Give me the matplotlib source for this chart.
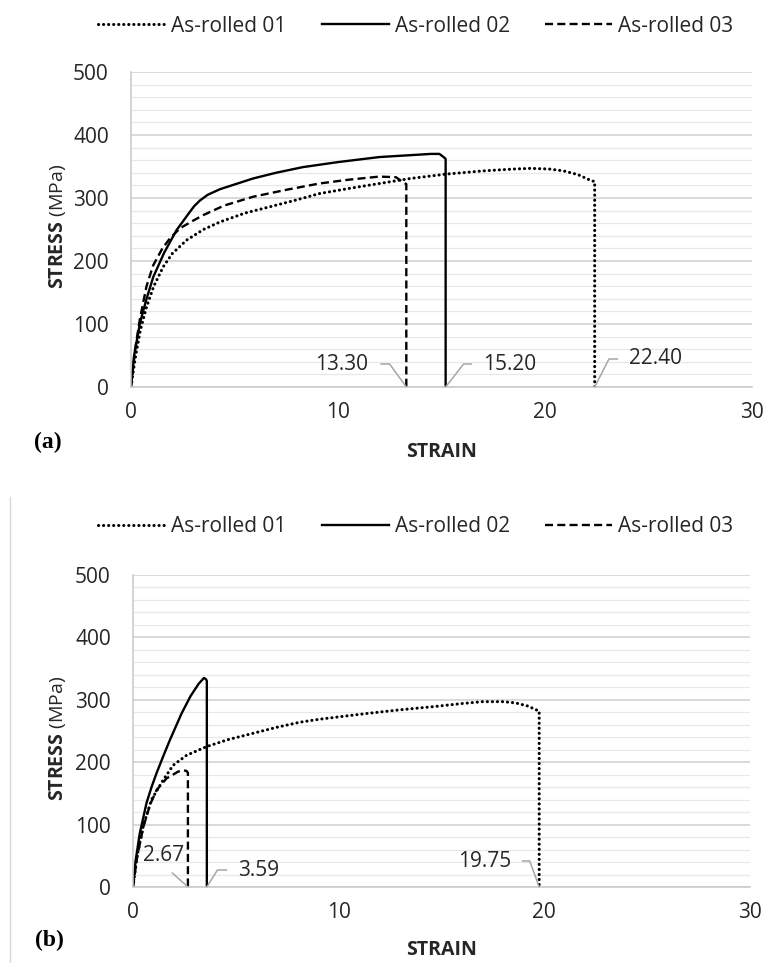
import matplotlib
matplotlib.use("Agg")
import matplotlib.pyplot as plt
from matplotlib.lines import Line2D

plt.rcParams['font.family'] = ['Open Sans', 'DejaVu Sans']
plt.rcParams['mathtext.fontset'] = 'custom'
plt.rcParams['mathtext.rm'] = 'Open Sans'
plt.rcParams['mathtext.bf'] = 'Open Sans:bold'

# series names
labels = ["As-rolled 01", "As-rolled 02", "As-rolled 03"]

# panel (a) curves
strain_a01 = [0, 0.2, 0.45, 0.75, 1.1, 1.56, 2.0, 2.68, 3.5, 4.3, 5.5, 6.7, 8.0, 9.1, 10.5,
              12.0, 13.5, 15.25, 17.0, 18.5, 19.3, 20.2, 20.9, 21.6, 22.2, 22.4, 22.4]
stress_a01 = [0, 45, 90, 127, 160, 191, 212, 233, 250, 262, 276, 286, 297, 307, 315,
              323, 331, 338, 343, 346, 347, 346, 343, 337, 328, 326, 0]
strain_a02 = [0, 0.15, 0.43, 0.75, 1.08, 1.6, 2.2, 2.8, 3.05, 3.33, 3.7, 4.3, 5.9, 7.0, 8.3,
              10.0, 12.0, 13.5, 14.5, 14.9, 15.1, 15.2, 15.2]
stress_a02 = [0, 50, 101, 140, 175, 213, 249, 276, 287, 296, 305, 314, 331, 340, 349,
              357, 365, 368, 370, 370, 365, 362, 0]
strain_a03 = [0, 0.2, 0.43, 0.75, 1.07, 1.5, 1.88, 2.37, 3.0, 3.5, 4.5, 5.9, 7.5, 9.1,
              10.5, 12.0, 12.8, 13.1, 13.3, 13.3]
stress_a03 = [0, 60, 108, 160, 193, 219, 236, 252, 264, 273, 288, 302, 313, 323,
              329, 334, 333, 326, 322, 0]

# panel (b) curves
strain_b01 = [0, 0.2, 0.5, 0.9, 1.46, 1.95, 2.6, 3.58, 4.6, 5.8, 7.0, 8.1, 9.1, 11.35,
              13.0, 14.6, 16.0, 17.0, 18.0, 18.6, 19.2, 19.6, 19.75, 19.75]
stress_b01 = [0, 50, 98, 140, 171, 195, 211, 225, 236, 246, 256, 264, 269, 278,
              284, 289, 294, 297, 297, 295, 290, 284, 282, 0]
strain_b02 = [0, 0.13, 0.33, 0.66, 0.9, 1.14, 1.5, 1.8, 2.36, 2.8, 3.2, 3.45, 3.55, 3.59, 3.59]
stress_b02 = [0, 43, 86, 135, 160, 182, 212, 236, 278, 306, 326, 335, 333, 330, 0]
strain_b03 = [0, 0.2, 0.5, 0.83, 1.14, 1.63, 2.2, 2.45, 2.6, 2.67, 2.67]
stress_b03 = [0, 48, 96, 132, 155, 174, 185, 187, 186, 183, 0]

# fracture strain labels
fracture_a = [13.30, 15.20, 22.40]
fracture_b = [2.67, 3.59, 19.75]

x_ticks = [0, 10, 20, 30]
y_ticks = [0, 100, 200, 300, 400, 500]

styles = [dict(ls=(0, (0.05, 1.6)), lw=2.2, dash_capstyle='round'),
          dict(ls='-', lw=1.7),
          dict(ls=(0, (3.4, 1.8)), lw=1.7)]

W, H = 765, 963
fig = plt.figure(figsize=(W / 100, H / 100), dpi=100)
FS = 15


def px(x, y):
    return x / W, 1 - y / H


def make_panel(rect, curves, fracture, leaders, legend_y, ylabel_y, xlabel_y):
    ax = fig.add_axes(rect)
    for (s, st), lab, sty in zip(curves, labels, styles):
        ax.plot(s, st, color='black', label=lab, solid_joinstyle='round', **sty)
    ax.set_xlim(0, 30)
    ax.set_ylim(0, 500)
    ax.set_xticks(x_ticks)
    ax.set_yticks(y_ticks)
    ax.set_yticks(range(0, 501, 20), minor=True)
    ax.tick_params(which='both', length=0, labelsize=FS, colors='#262626')
    ax.tick_params(axis='x', pad=11)
    ax.tick_params(axis='y', pad=16)
    ax.grid(axis='y', which='major', color='#d0d0d0', lw=1.1)
    ax.grid(axis='y', which='minor', color='#e8e8e8', lw=0.9)
    ax.set_axisbelow(True)
    for sp in ['top', 'right']:
        ax.spines[sp].set_visible(False)
    for sp in ['left', 'bottom']:
        ax.spines[sp].set_color('#c8c8c8')
        ax.spines[sp].set_linewidth(1.1)

    # fracture strain call-outs
    for val, (dx, dy, ha, ang, rel, shrink) in zip(fracture, leaders):
        if ang is None:
            cs = 'arc3,rad=0'
        else:
            cs = 'angle,angleA=0,angleB=%d,rad=0' % ang
        ax.annotate('%.2f' % val, xy=(val, 0), xytext=(dx, dy), textcoords='offset pixels',
                    ha=ha, va='center', fontsize=FS, color='#262626',
                    annotation_clip=False,
                    arrowprops=dict(arrowstyle='-', color='#a6a6a6', lw=1.1,
                                    connectionstyle=cs, relpos=rel,
                                    shrinkA=shrink, shrinkB=0))

    fig.legend(handles=ax.get_lines(), labels=labels, loc='center',
               bbox_to_anchor=px(416, legend_y), ncol=3, frameon=False,
               fontsize=FS, handlelength=3.2, handletextpad=0.3,
               columnspacing=1.7, labelcolor='#262626')
    fig.text(*px(442, xlabel_y), 'STRAIN', ha='center', va='center',
             fontsize=14, fontweight='bold', color='#262626')
    fig.text(*px(57, ylabel_y), r'$\mathbf{STRESS}$ (MPa)', rotation=90,
             ha='center', va='center', fontsize=14, color='#262626')
    return ax


leaders_a = [(-38, 23, 'right', 126, (1, 0.5), 7),
             (37, 23, 'left', 52, (0, 0.5), 6),
             (34, 28, 'left', 63, (0, 0.5), 6)]
leaders_b = [(-24, 32, 'center', None, (0.5, 0), 5),
             (31, 17, 'left', 58, (0, 0.5), 6),
             (-28, 26, 'right', 110, (1, 0.5), 6)]

make_panel([131 / W, 1 - 387 / H, 621 / W, 315 / H],
           [(strain_a01, stress_a01), (strain_a02, stress_a02), (strain_a03, stress_a03)],
           fracture_a, leaders_a, 26, 226, 452)
make_panel([133 / W, 1 - 887 / H, 617 / W, 312 / H],
           [(strain_b01, stress_b01), (strain_b02, stress_b02), (strain_b03, stress_b03)],
           fracture_b, leaders_b, 527, 738, 950)

fig.text(*px(48, 442), '(a)', ha='center', va='center', fontsize=17,
         fontweight='bold', family='Liberation Serif')
fig.text(*px(49, 940), '(b)', ha='center', va='center', fontsize=17,
         fontweight='bold', family='Liberation Serif')

# faint border of the second chart
fig.add_artist(Line2D([10 / W, 10 / W], [1 - 497 / H, 0], color='#d9d9d9', lw=1))

fig.savefig('out.png', dpi=100)
